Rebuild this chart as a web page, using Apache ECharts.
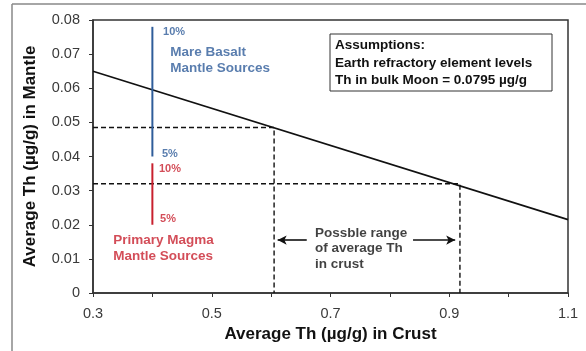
<!DOCTYPE html>
<html>
<head>
<meta charset="utf-8">
<script src="https://cdn.jsdelivr.net/npm/echarts@6/dist/echarts.min.js"></script>
<style>
html,body{margin:0;padding:0;background:#fff;}
#c{width:586px;height:351px;}
</style>
</head>
<body>
<div id="c"></div>
<script>
// Data
var xTicks = [0.3, 0.5, 0.7, 0.9, 1.1];
var balanceLine = [[0.3, 0.065], [1.1, 0.0215]];
var upperRange = [[0.3, 0.0485], [0.605, 0.0485], [0.605, 0]];
var lowerRange = [[0.3, 0.032], [0.918, 0.032], [0.918, 0]];
var mareBasalt = [[0.4, 0.078], [0.4, 0.040]];
var primaryMagma = [[0.4, 0.038], [0.4, 0.020]];
var blueLabels = [[0.418, 0.0765, '10%', 11], [0.43, 0.0682, 'Mare Basalt\nMantle Sources', 13.5], [0.416, 0.0406, '5%', 11]];
var redLabels = [[0.411, 0.0362, '10%', 11], [0.413, 0.0216, '5%', 11], [0.334, 0.0131, 'Primary Magma\nMantle Sources', 13.5]];
var blackLabels = [[0.674, 0.0131, 'Possble range\nof average Th\nin crust', 13.5]];
var arrows = [[[0.660, 0.0155], [0.611, 0.0155]], [[0.839, 0.0155], [0.910, 0.0155]]];
var assumptions = 'Assumptions:\nEarth refractory element levels\nTh in bulk Moon = 0.0795 \u00b5g/g';

var FONT = '"Liberation Sans", Arial, sans-serif';
var BLUE = '#2f5d9a', RED = '#c8202e';

function labelSeries(arr, color) {
  return {
    type: 'scatter', symbolSize: 0, silent: true,
    data: arr.map(function (d) {
      return {value: [d[0], d[1]], label: {formatter: d[2], fontSize: d[3], lineHeight: d[3] + 2}};
    }),
    label: {show: true, position: 'right', distance: 0, color: color, fontWeight: 'bold', fontFamily: FONT, align: 'left', verticalAlign: 'middle'}
  };
}

var chart = echarts.init(document.getElementById('c'), null, {renderer: 'canvas'});
chart.setOption({
  animation: false,
  backgroundColor: '#fff',
  grid: {left: 93, right: 18, top: 20, bottom: 58, show: true, borderColor: '#333', borderWidth: 1.5, backgroundColor: 'transparent'},
  xAxis: {
    type: 'value', min: 0.3, max: 1.1, interval: 0.1,
    name: 'Average Th (\u00b5g/g) in Crust', nameLocation: 'middle', nameGap: 31,
    nameTextStyle: {fontFamily: FONT, fontWeight: 'bold', fontSize: 17, color: '#111'},
    axisLine: {lineStyle: {color: '#333', width: 1.5}},
    axisTick: {length: 4, lineStyle: {color: '#333'}},
    splitLine: {show: false},
    axisLabel: {fontFamily: FONT, fontSize: 14.5, color: '#3a3a3a', margin: 13,
      formatter: function (v) {
        var r = Math.round(v * 10) / 10;
        for (var i = 0; i < xTicks.length; i++) if (Math.abs(xTicks[i] - r) < 1e-6) return String(xTicks[i]);
        return '';
      }}
  },
  yAxis: {
    type: 'value', min: 0, max: 0.08, interval: 0.01,
    name: 'Average Th (\u00b5g/g) in Mantle', nameLocation: 'middle', nameGap: 54,
    nameTextStyle: {fontFamily: FONT, fontWeight: 'bold', fontSize: 17, color: '#111'},
    axisLine: {show: true, lineStyle: {color: '#333', width: 1.5}},
    axisTick: {show: true, length: 4, lineStyle: {color: '#333'}},
    splitLine: {show: false},
    axisLabel: {fontFamily: FONT, fontSize: 14.5, color: '#3a3a3a', margin: 13,
      formatter: function (v) { return v === 0 ? '0' : (Math.round(v * 100) / 100).toFixed(2); }}
  },
  series: [
    {type: 'line', data: balanceLine, symbol: 'none', lineStyle: {color: '#111', width: 1.6}, silent: true},
    {type: 'line', data: upperRange, symbol: 'none', lineStyle: {color: '#111', width: 1.4, type: [5, 3]}, silent: true},
    {type: 'line', data: lowerRange, symbol: 'none', lineStyle: {color: '#111', width: 1.4, type: [5, 3]}, silent: true},
    {type: 'line', data: mareBasalt, symbol: 'none', lineStyle: {color: BLUE, width: 2}, silent: true},
    {type: 'line', data: primaryMagma, symbol: 'none', lineStyle: {color: RED, width: 2}, silent: true},
    {
      type: 'line', data: [], silent: true,
      markLine: {
        silent: true, symbol: ['none', 'arrow'], symbolSize: [7, 9],
        label: {show: false},
        lineStyle: {color: '#111', width: 1.6, type: 'solid'},
        data: arrows.map(function (a) { return [{coord: a[0]}, {coord: a[1]}]; })
      }
    },
    labelSeries(blueLabels, BLUE),
    labelSeries(redLabels, RED),
    labelSeries(blackLabels, '#111')
  ],
  graphic: [
    {type: 'line', shape: {x1: 12, y1: 4, x2: 586, y2: 4}, style: {stroke: '#888', lineWidth: 1.5}, silent: true},
    {type: 'line', shape: {x1: 12, y1: 4, x2: 12, y2: 351}, style: {stroke: '#888', lineWidth: 1.5}, silent: true},
    {type: 'rect', shape: {x: 330, y: 34, width: 222, height: 57}, style: {fill: '#fff', stroke: '#333', lineWidth: 1}, silent: true, z: 10},
    {type: 'text', x: 335, y: 37, z: 11, silent: true,
      style: {text: assumptions, fill: '#111', font: 'bold 13.5px ' + FONT, lineHeight: 17.5}}
  ]
});
</script>
</body>
</html>
